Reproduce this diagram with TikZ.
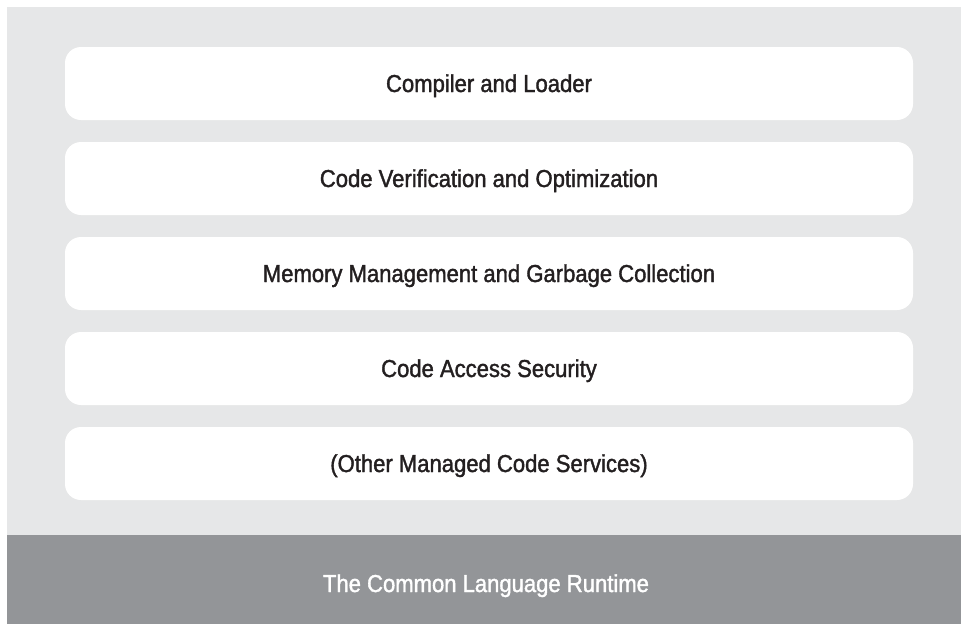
\documentclass[tikz,border=0pt]{standalone}
\usepackage{fontspec}
\setmainfont{Liberation Sans}[FakeStretch=0.9,FakeBold=1.5]
\definecolor{panelgray}{HTML}{E6E7E8}
\definecolor{bandgray}{HTML}{939598}
\definecolor{textdark}{HTML}{231F20}
\tikzset{
  layerbox/.style={fill=white, draw=none, rounded corners=16pt},
  layertext/.style={anchor=base, text=textdark, font=\fontsize{24.5pt}{29pt}\selectfont, inner sep=0pt},
  bandtext/.style={anchor=base, text=white, font=\fontsize{24.5pt}{29pt}\selectfont, inner sep=0pt}
}
\begin{document}
\begin{tikzpicture}[x=1pt,y=-1pt]
\useasboundingbox (0,0) rectangle (961,624);
\fill[white] (0,0) rectangle (961,624);
\fill[panelgray] (7,7) rectangle (961,535);
\fill[bandgray] (7,535) rectangle (961,624);
\foreach \i/\t in {0/Compiler and Loader,1/Code Verification and Optimization,2/Memory Management and Garbage Collection,3/Code Access Security,4/(Other Managed Code Services)}{
  \path[layerbox] (65,47+95*\i) rectangle (913,120+95*\i);
  \node[layertext] (t\i) at (489,92+95*\i) {\t};
}
\node[bandtext] (clr) at (486,592) {The Common Language Runtime};
\end{tikzpicture}
\end{document}
